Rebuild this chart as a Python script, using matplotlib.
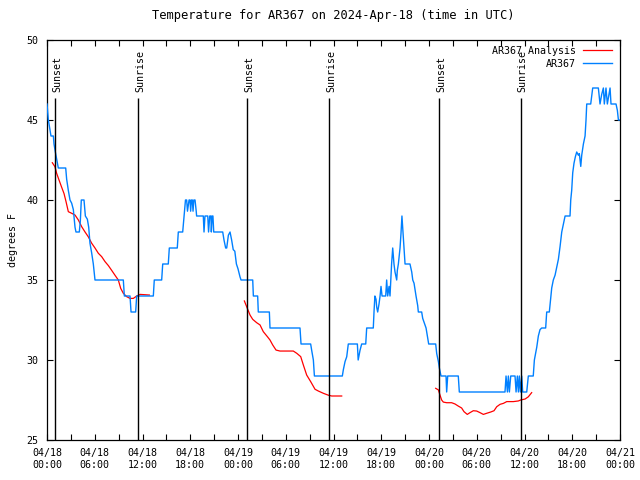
import matplotlib
matplotlib.use("Agg")
import matplotlib.pyplot as plt
import matplotlib.dates as mdates
import pandas as pd

#start of the plotted period
base = pd.Timestamp("2024-04-18 00:00")

#AR367 observed temperature (hours from start, degrees F)
blue_h = [0.0, 0.17, 0.5, 0.8, 0.88, 1.05, 1.42, 2.35, 2.47, 2.68, 2.89, 3.10, 3.31, 3.52, 3.64,
          4.06, 4.19, 4.31, 4.65, 4.82, 5.07, 5.24, 5.40, 5.61, 5.82, 6.03, 9.59, 9.72, 10.43,
          10.56, 11.14, 11.27, 13.36, 13.48, 14.41, 14.54, 15.24, 15.37, 16.37, 16.50, 17.05,
          17.22, 17.40, 17.55, 17.65, 17.85, 17.97, 18.05, 18.15, 18.26, 18.35, 18.45, 18.6,
          18.75, 18.8, 19.64, 19.73, 19.85, 20.0, 20.2, 20.3, 20.45, 20.6, 20.65, 20.75, 20.85,
          20.95, 21.1, 22.08, 22.24, 22.45, 22.58, 22.79, 23.0, 23.2, 23.4, 23.6, 23.8, 24.0,
          24.25, 24.38, 25.85, 25.93, 26.47, 26.55, 27.94, 28.02, 31.79, 31.92, 33.13, 33.26,
          33.47, 33.6, 37.11, 37.24, 37.45, 37.66, 37.86, 39.0, 39.1, 39.33, 39.54, 40.05, 40.17,
          41.0, 41.09, 41.2, 41.34, 41.43, 41.55, 41.72, 41.85, 41.97, 42.1, 42.56, 42.68, 42.81,
          42.98, 43.1, 43.3, 43.44, 43.6, 43.73, 43.94, 44.02, 44.15, 44.36, 44.48, 44.6, 44.73,
          44.86, 44.99, 45.61, 45.83, 45.96, 46.12, 46.37, 46.58, 46.66, 47.08, 47.21, 47.42,
          47.63, 47.8, 47.96, 48.84, 48.97, 49.18, 49.3, 49.51, 50.14, 50.22, 50.35, 51.68, 51.81,
          57.55, 57.68, 57.85, 57.97, 58.1, 58.27, 58.81, 58.94, 59.1, 59.23, 59.35, 59.48, 59.65,
          59.77, 60.28, 60.48, 61.1, 61.24, 61.54, 61.74, 61.95, 62.16, 62.66, 62.79, 63.12, 63.2,
          63.42, 63.62, 63.84, 64.05, 64.26, 64.47, 64.68, 64.89, 65.1, 65.72, 65.81, 65.93, 66.06,
          66.22, 66.39, 66.56, 66.77, 66.89, 67.07, 67.19, 67.4, 67.61, 67.73, 67.82, 68.32, 68.57,
          69.28, 69.49, 69.7, 69.91, 70.03, 70.24, 70.41, 70.75, 70.87, 71.5, 71.67, 71.8, 72.0]
blue_v = [46, 45, 44, 44, 43.5, 43, 42, 42, 41.3, 40.6, 40, 39.8, 39.4, 38.3, 38,
          38, 38.7, 40, 40, 39, 38.8, 38.3, 37.3, 36.7, 36, 35, 35, 34, 34,
          33, 33, 34, 34, 35, 35, 36, 36, 37, 37, 38, 38,
          39, 40, 40, 39.3, 40, 40, 39.3, 40, 40, 39.3, 40, 40,
          39.3, 39, 39, 38, 39, 39, 39, 38, 39, 39, 38, 39, 39,
          38, 38, 38, 37.5, 37, 37, 37.8, 38, 37.5, 36.9, 36.8, 36, 35.7,
          35.2, 35, 35, 34, 34, 33, 33, 32, 32, 31, 31, 30.6,
          30, 29, 29, 29.4, 29.9, 30.2, 31, 31, 30, 30.6, 31, 31, 32,
          32, 33, 34, 33.8, 33.3, 33, 33.5, 34, 34.6, 34, 34, 35, 34,
          34.6, 34, 36, 37, 36, 35.5, 35, 35.6, 36, 37, 37.9, 39, 38,
          37, 36, 36, 35.5, 35, 34.8, 34, 33.4, 33, 33, 32.6, 32.3,
          32, 31.5, 31, 31, 30.4, 29.9, 29.5, 29, 29, 28, 29, 29, 28,
          28, 29, 28, 29, 28, 29, 29, 28, 29, 28, 29, 28, 29,
          28, 28, 29, 29, 30, 30.8, 31.5, 31.9, 32, 32, 33, 33, 33.4,
          34.5, 35, 35.3, 35.8, 36.3, 37.1, 38, 38.5, 39, 39, 40, 40.6, 41.7,
          42.3, 42.7, 43, 42.8, 42.9, 42.1, 42.8, 43.5, 44, 45, 46, 46, 47,
          47, 46, 46.6, 47, 46, 47, 46, 47, 46, 46, 45.6, 45, 45]

#AR367 analysis, one piece per night
red1_h = [0.67, 1.0, 1.21, 1.51, 1.84, 2.14, 2.39, 2.68, 3.1, 3.52, 3.94, 4.36, 4.78, 5.19, 5.61,
          6.03, 6.45, 6.87, 7.29, 7.71, 8.13, 8.54, 8.96, 9.26, 9.59, 10.01, 10.43, 10.85, 11.27,
          11.69, 12.31, 12.86]
red1_v = [42.33, 42.08, 41.67, 41.25, 40.8, 40.4, 39.9, 39.27, 39.17, 39.06, 38.75, 38.33, 38.0,
          37.7, 37.3, 37.0, 36.67, 36.46, 36.15, 35.9, 35.6, 35.3, 35.0, 34.48, 34.17, 33.96,
          33.85, 33.85, 34.0, 34.1, 34.08, 34.06]
red2_h = [24.8, 25.09, 25.51, 25.85, 26.35, 26.77, 27.18, 27.69, 28.02, 28.36, 28.78, 29.28, 30.95,
          31.38, 31.88, 32.21, 32.63, 33.13, 33.68, 34.1, 34.72, 35.35, 35.77, 37.03]
red2_v = [33.69, 33.33, 32.81, 32.54, 32.33, 32.19, 31.77, 31.46, 31.25, 30.94, 30.62, 30.56, 30.56,
          30.42, 30.21, 29.69, 29.06, 28.65, 28.17, 28.06, 27.92, 27.8, 27.75, 27.75]
red3_h = [48.84, 49.18, 49.38, 49.59, 49.8, 50.22, 50.85, 51.27, 51.68, 52.1, 52.4, 52.81, 53.15,
          53.57, 53.99, 54.41, 54.83, 55.25, 55.76, 56.17, 56.51, 56.93, 57.35, 57.77, 58.6, 59.23,
          59.52, 60.07, 60.48, 60.9]
red3_v = [28.23, 28.13, 27.81, 27.5, 27.37, 27.33, 27.33, 27.25, 27.12, 27.0, 26.77, 26.6, 26.71,
          26.83, 26.81, 26.71, 26.6, 26.67, 26.75, 26.83, 27.08, 27.23, 27.29, 27.4, 27.4, 27.44,
          27.5, 27.56, 27.7, 27.96]

#sunset / sunrise marks (hours from start)
event_h = [1.04, 11.47, 25.17, 35.47, 49.3, 59.5]
event_name = ["Sunset", "Sunrise", "Sunset", "Sunrise", "Sunset", "Sunrise"]

def to_time(hours):
    return base + pd.to_timedelta(hours, unit="h")

plt.rcParams["font.family"] = ["DejaVu Sans Mono"]
plt.rcParams["font.size"] = 7.2

fig = plt.figure(figsize=(6.4, 4.8), dpi=100)
ax = fig.add_axes([47 / 640, 40 / 480, 573 / 640, 400 / 480])

#ploting analysis and observations
red_kw = dict(color="#ff0000", lw=0.9, zorder=2)
ax.plot(to_time(red1_h), red1_v, label="AR367 Analysis", **red_kw)
ax.plot(to_time(red2_h), red2_v, **red_kw)
ax.plot(to_time(red3_h), red3_v, **red_kw)
ax.plot(to_time(blue_h), blue_v, color="#0080ff", lw=1.0, label="AR367", zorder=3)

#sunrise and sunset lines with labels
ax.vlines(to_time(event_h), 25, 46.4, color="black", lw=1.0, zorder=4)
for h, name in zip(event_h, event_name):
    ax.text(to_time(h) + pd.Timedelta(minutes=15), 46.75, name, rotation=90,
            ha="center", va="bottom")

#axis limits and ticks
ax.set_xlim(base, base + pd.Timedelta(hours=72))
ax.set_ylim(25, 50)
ax.set_yticks([25, 30, 35, 40, 45, 50])
ax.xaxis.set_major_locator(mdates.HourLocator(byhour=[0, 6, 12, 18]))
ax.xaxis.set_minor_locator(mdates.HourLocator(byhour=[3, 9, 15, 21]))
ax.xaxis.set_major_formatter(mdates.DateFormatter("%m/%d\n%H:%M"))
ax.tick_params(which="both", direction="in", top=True, right=True, length=4, width=0.8, pad=6)
for s in ax.spines.values():
    s.set_linewidth(0.9)

#title and labels
ax.set_title("Temperature for AR367 on 2024-Apr-18 (time in UTC)", pad=15)
ax.set_ylabel("degrees F", labelpad=6)

#legend, text right aligned next to its line (one legend per row)
hs, ls = ax.get_legend_handles_labels()
leg_kw = dict(loc="upper right", frameon=False, markerfirst=False, handlelength=2.9,
              handletextpad=0.7, borderpad=0, borderaxespad=0, bbox_transform=ax.transAxes)
leg1 = ax.legend([hs[0]], [ls[0]], bbox_to_anchor=(1 - 8 / 573, 1 - 6 / 400), **leg_kw)
ax.add_artist(leg1)
ax.legend([hs[1]], [ls[1]], bbox_to_anchor=(1 - 8 / 573, 1 - 19 / 400), **leg_kw)

fig.savefig("out.png", dpi=100)
